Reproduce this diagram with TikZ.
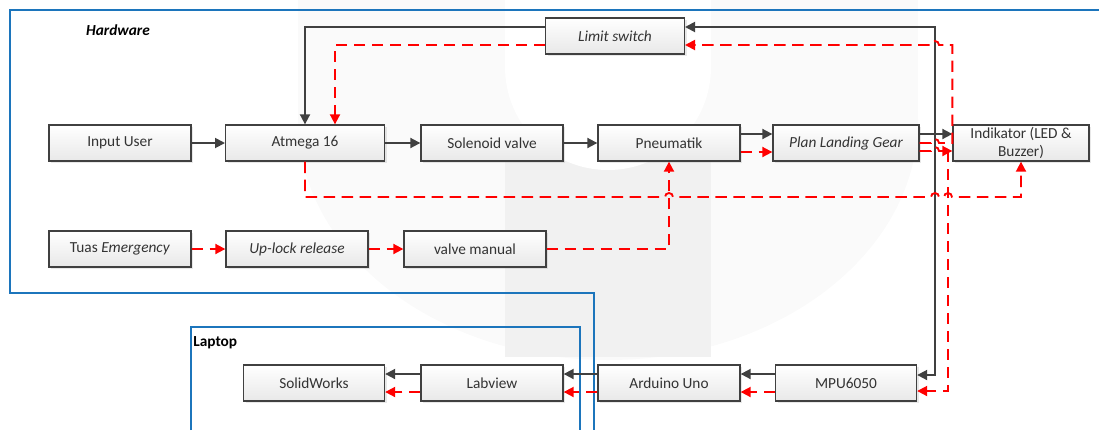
\documentclass[tikz,border=0pt]{standalone}
\usepackage{fontspec}
\setmainfont{Carlito}
\usetikzlibrary{arrows.meta,calc,shadows}
\definecolor{linegray}{HTML}{404040}
\definecolor{txtgray}{HTML}{333333}
\definecolor{frameblue}{HTML}{1C75BC}
\definecolor{dashred}{HTML}{FF0000}
\tikzset{
  box/.style={draw=linegray,line width=1pt,top color=white,bottom color=gray!18,
    minimum width=106.5pt,minimum height=27pt,inner sep=2pt,text=txtgray,
    font=\fontsize{11.5}{13}\selectfont,
    drop shadow={shadow xshift=1.8pt,shadow yshift=-1.8pt,opacity=.18}},
  blk/.style={color=linegray,line width=1.4pt,-{Triangle[length=7.5pt,width=7.5pt]}},
  rdash/.style={color=dashred,line width=1.4pt,dash pattern=on 8.5pt off 5pt,
    -{Triangle[length=7.5pt,width=7.5pt]}},
  frame/.style={color=frameblue,line width=1pt},
}
\begin{document}
\begin{tikzpicture}[x=0.75pt,y=-0.75pt]
\useasboundingbox (0,0) rectangle (1099,430);
% watermark
\begin{scope}
  \clip (0,0) rectangle (1099,430);
  \fill[gray!4] (298,0) rectangle (918,120);
  \fill[gray!4] (608,120) ellipse [x radius=310,y radius=240];
  \fill[gray!11] (505,150) rectangle (711,357);
  \fill[white] (505,0) rectangle (711,67);
  \fill[white] (608,67) circle [radius=103];
\end{scope}
% frames
\draw[frame] (1099,10) -- (10,10) -- (10,293) -- (594,293) -- (594,430);
\draw[frame] (191,430) -- (191,327) -- (580,327) -- (580,430);
\node[font=\bfseries\itshape\fontsize{11.5}{13}\selectfont] (hwlbl) at (118,30) {Hardware};
\node[font=\bfseries\fontsize{11.5}{13}\selectfont,anchor=west,inner sep=0pt] (lplbl) at (193,343) {Laptop};
% blocks
\node[box,minimum width=104pt] (limit) at (615,36) {\itshape Limit switch};
\node[box] (user) at (120,143) {Input User};
\node[box,minimum width=119pt] (atm) at (305,143) {Atmega 16};
\node[box] (sol) at (492,143) {Solenoid valve};
\node[box] (pneu) at (669,143) {Pneumatik};
\node[box,minimum width=109.5pt] (gear) at (846,143) {\itshape Plan Landing Gear};
\node[box,minimum width=102pt,align=center,inner sep=1pt] (ind) at (1021,143) {Indikator (LED \&\\Buzzer)};
\node[box] (tuas) at (120,249) {Tuas \textit{Emergency}};
\node[box] (uplock) at (297,249) {\itshape Up-lock release};
\node[box] (valve) at (475,249) {valve manual};
\node[box,minimum width=105.75pt] (sw) at (314,383) {SolidWorks};
\node[box] (lab) at (492,383) {Labview};
\node[box] (ard) at (669,383) {Arduino Uno};
\node[box,minimum width=105.75pt] (mpu) at (846,383) {MPU6050};
% helper coordinates
\coordinate (xblk) at (935,0);
\coordinate (xred) at (948,0);
\coordinate (bus) at (0,197);
\coordinate (j1) at ([yshift=6.75pt]gear.east);
\coordinate (j2) at ([yshift=-6pt]gear.east);
\coordinate (lsr) at ([yshift=-6.75pt]limit.east);
% solid links
\draw[blk] (user) -- (atm);
\draw[blk] (atm) -- (sol);
\draw[blk] (sol) -- (pneu);
\draw[blk] ([yshift=6.75pt]pneu.east) -- ([yshift=6.75pt]gear.west);
\draw[blk] (j1) -- ([yshift=6.75pt]ind.west);
\draw[blk] (xblk |- j1) |- ([yshift=6.75pt]limit.east);
\draw[blk] (xblk |- j1) |- ([yshift=6pt]mpu.east);
\draw[blk] ([yshift=6.75pt]limit.west) -| (atm.north);
\draw[blk] ([yshift=6.75pt]mpu.west) -- ([yshift=6.75pt]ard.east);
\draw[blk] ([yshift=6.75pt]ard.west) -- ([yshift=6.75pt]lab.east);
\draw[blk] ([yshift=6.75pt]lab.west) -- ([yshift=6.75pt]sw.east);
% dashed links
\draw[rdash] ([yshift=-6.75pt]limit.west) -| ([xshift=22.5pt]atm.north);
\draw[rdash] ([yshift=-6.75pt]pneu.east) -- ([yshift=-6.75pt]gear.west);
\draw[rdash] (gear.east) -- ($(xblk|-gear.east)+(-4,0)$) arc[start angle=180,end angle=360,radius=4]
  -- (ind.west) |- ($(xblk|-lsr)+(4,0)$) arc[start angle=0,end angle=-180,radius=4] -- (lsr);
\draw[rdash] (j2) -- ($(xblk|-j2)+(-4,0)$) arc[start angle=180,end angle=360,radius=4]
  -- ([yshift=-6pt]ind.west);
\draw[rdash] (xred |- j2) |- ([yshift=-6pt]mpu.east);
\draw[rdash] (atm.south) |- ($(pneu.south|-bus)+(-4,0)$) arc[start angle=180,end angle=360,radius=4]
  -- ($(xblk|-bus)+(-4,0)$) arc[start angle=180,end angle=360,radius=4]
  -- ($(xred|-bus)+(-4,0)$) arc[start angle=180,end angle=360,radius=4] -| (ind.south);
\draw[rdash] (tuas) -- (uplock);
\draw[rdash] (uplock) -- (valve);
\draw[rdash] (valve.east) -| (pneu.south);
\draw[rdash] ([yshift=-6.75pt]mpu.west) -- ([yshift=-6.75pt]ard.east);
\draw[rdash] ([yshift=-6.75pt]ard.west) -- ([yshift=-6.75pt]lab.east);
\draw[rdash] ([yshift=-6.75pt]lab.west) -- ([yshift=-6.75pt]sw.east);
\end{tikzpicture}
\end{document}
